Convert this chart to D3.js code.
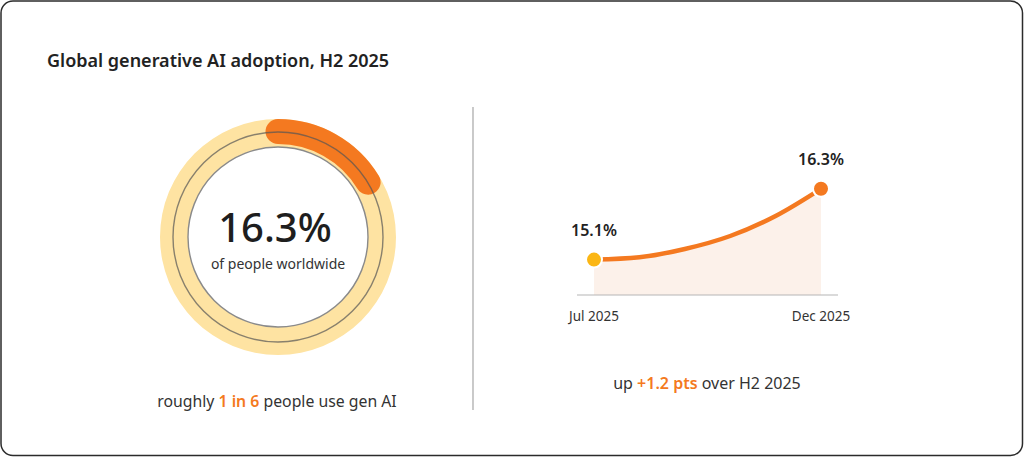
<!DOCTYPE html>
<html>
<head>
<meta charset="utf-8">
<script src="https://cdn.jsdelivr.net/npm/d3@7"></script>
<style>
  html, body { margin: 0; padding: 0; background: #fff; }
  svg { display: block; font-family: "Noto Sans", "Open Sans", sans-serif; }
</style>
</head>
<body>
<div id="chart"></div>
<script>
// ========================
// DATA
// ========================
const chartTitle = "Global generative AI adoption, H2 2025";
const shareWorldwide = 16.3;               // % of people worldwide
const months = ["Jul 2025", "Aug 2025", "Sep 2025", "Oct 2025", "Nov 2025", "Dec 2025"];
const adoption = [15.1, 15.14, 15.28, 15.5, 15.84, 16.3];
const tickLabels = ["Jul 2025", "Dec 2025"];
const yDomain = [14.5, 16.5];

const W = 1024, H = 457;
const ORANGE = "#f47920", YELLOW = "#fbb614", RING = "#fee3a2", INK = "#222";

const svg = d3.select("#chart").append("svg")
    .attr("width", W).attr("height", H)
    .attr("viewBox", `0 0 ${W} ${H}`);

// card frame
svg.append("rect")
    .attr("x", 1).attr("y", 1).attr("width", W - 2.5).attr("height", H - 2.5)
    .attr("rx", 12).attr("fill", "#fff")
    .attr("stroke", "#2b2b2b").attr("stroke-width", 1.5);

svg.append("text")
    .attr("x", 47).attr("y", 67)
    .attr("fill", INK).attr("font-size", "18px").attr("font-weight", 600)
    .text(chartTitle);

// divider
svg.append("line")
    .attr("x1", 473).attr("x2", 473).attr("y1", 107).attr("y2", 410)
    .attr("stroke", "#a6a6a6").attr("stroke-width", 1.2);

// ========================
// DONUT
// ========================
const cx = 278, cy = 237;
const donut = svg.append("g").attr("transform", `translate(${cx},${cy})`);
const angle = d3.scaleLinear().domain([0, 100]).range([0, 2 * Math.PI]);

donut.append("path")
    .attr("d", d3.arc().innerRadius(90).outerRadius(118).startAngle(0).endAngle(angle(100))())
    .attr("fill", RING);

// progress arc with round caps
const arcR = 105.5;
const p = d3.path();
p.arc(0, 0, arcR, -Math.PI / 2, -Math.PI / 2 + angle(shareWorldwide));
donut.append("path")
    .attr("d", p.toString())
    .attr("fill", "none")
    .attr("stroke", ORANGE).attr("stroke-width", 25)
    .attr("stroke-linecap", "round");

// thin guide circles
donut.append("circle").attr("r", 105)
    .attr("fill", "none").attr("stroke", "#555").attr("stroke-opacity", 0.7).attr("stroke-width", 1.4);
donut.append("circle").attr("r", 90)
    .attr("fill", "#fff").attr("stroke", "#8a8a8a").attr("stroke-width", 1.4);

donut.append("text")
    .attr("x", -3).attr("y", 5)
    .attr("text-anchor", "middle")
    .attr("fill", "#1e1e1e").attr("font-size", "40px").attr("font-weight", 500)
    .text(`${shareWorldwide}%`);
donut.append("text")
    .attr("y", 32)
    .attr("text-anchor", "middle")
    .attr("fill", "#333").attr("font-size", "14px")
    .text("of people worldwide");

const leftNote = svg.append("text")
    .attr("x", 277).attr("y", 407)
    .attr("text-anchor", "middle")
    .attr("fill", "#333").attr("font-size", "15.8px");
leftNote.append("tspan").text("roughly ");
leftNote.append("tspan").attr("fill", ORANGE).attr("font-weight", 600).text("1 in 6");
leftNote.append("tspan").text(" people use gen AI");

// ========================
// LINE CHART
// ========================
const x = d3.scaleLinear().domain([0, months.length - 1]).range([594, 821]);
const y = d3.scaleLinear().domain(yDomain).range([295, 177]);
const pts = adoption.map((v, i) => ({ i, v }));

svg.append("path")
    .datum(pts)
    .attr("d", d3.area().x(d => x(d.i)).y0(y(yDomain[0])).y1(d => y(d.v)).curve(d3.curveMonotoneX))
    .attr("fill", "#fcf1ea");

svg.append("line")
    .attr("x1", x(0) - 17).attr("x2", x(months.length - 1) + 17)
    .attr("y1", y(yDomain[0])).attr("y2", y(yDomain[0]))
    .attr("stroke", "#b5b5b5").attr("stroke-width", 1.2);

svg.append("path")
    .datum(pts)
    .attr("d", d3.line().x(d => x(d.i)).y(d => y(d.v)).curve(d3.curveMonotoneX))
    .attr("fill", "none").attr("stroke", ORANGE).attr("stroke-width", 4.5)
    .attr("stroke-linecap", "round");

const ends = [pts[0], pts[pts.length - 1]];
svg.selectAll(".end-dot")
    .data(ends)
    .enter().append("circle")
    .attr("class", "end-dot")
    .attr("cx", d => x(d.i)).attr("cy", d => y(d.v))
    .attr("r", 8)
    .attr("fill", (d, k) => k === 0 ? YELLOW : ORANGE)
    .attr("stroke", "#fff").attr("stroke-width", 2);

svg.selectAll(".end-label")
    .data(ends)
    .enter().append("text")
    .attr("class", "end-label")
    .attr("x", d => x(d.i)).attr("y", d => y(d.v) - 23.5)
    .attr("text-anchor", "middle")
    .attr("fill", INK).attr("font-size", "16px").attr("font-weight", 600)
    .text(d => `${d.v}%`);

svg.selectAll(".tick-label")
    .data(tickLabels)
    .enter().append("text")
    .attr("class", "tick-label")
    .attr("x", d => x(months.indexOf(d))).attr("y", 321)
    .attr("text-anchor", "middle")
    .attr("fill", "#333").attr("font-size", "13.5px")
    .text(d => d);

const delta = (adoption[adoption.length - 1] - adoption[0]).toFixed(1);
const rightNote = svg.append("text")
    .attr("x", 707).attr("y", 389)
    .attr("text-anchor", "middle")
    .attr("fill", "#333").attr("font-size", "16px");
rightNote.append("tspan").text("up ");
rightNote.append("tspan").attr("fill", ORANGE).attr("font-weight", 600).text(`+${delta} pts`);
rightNote.append("tspan").text(" over H2 2025");
</script>
</body>
</html>
